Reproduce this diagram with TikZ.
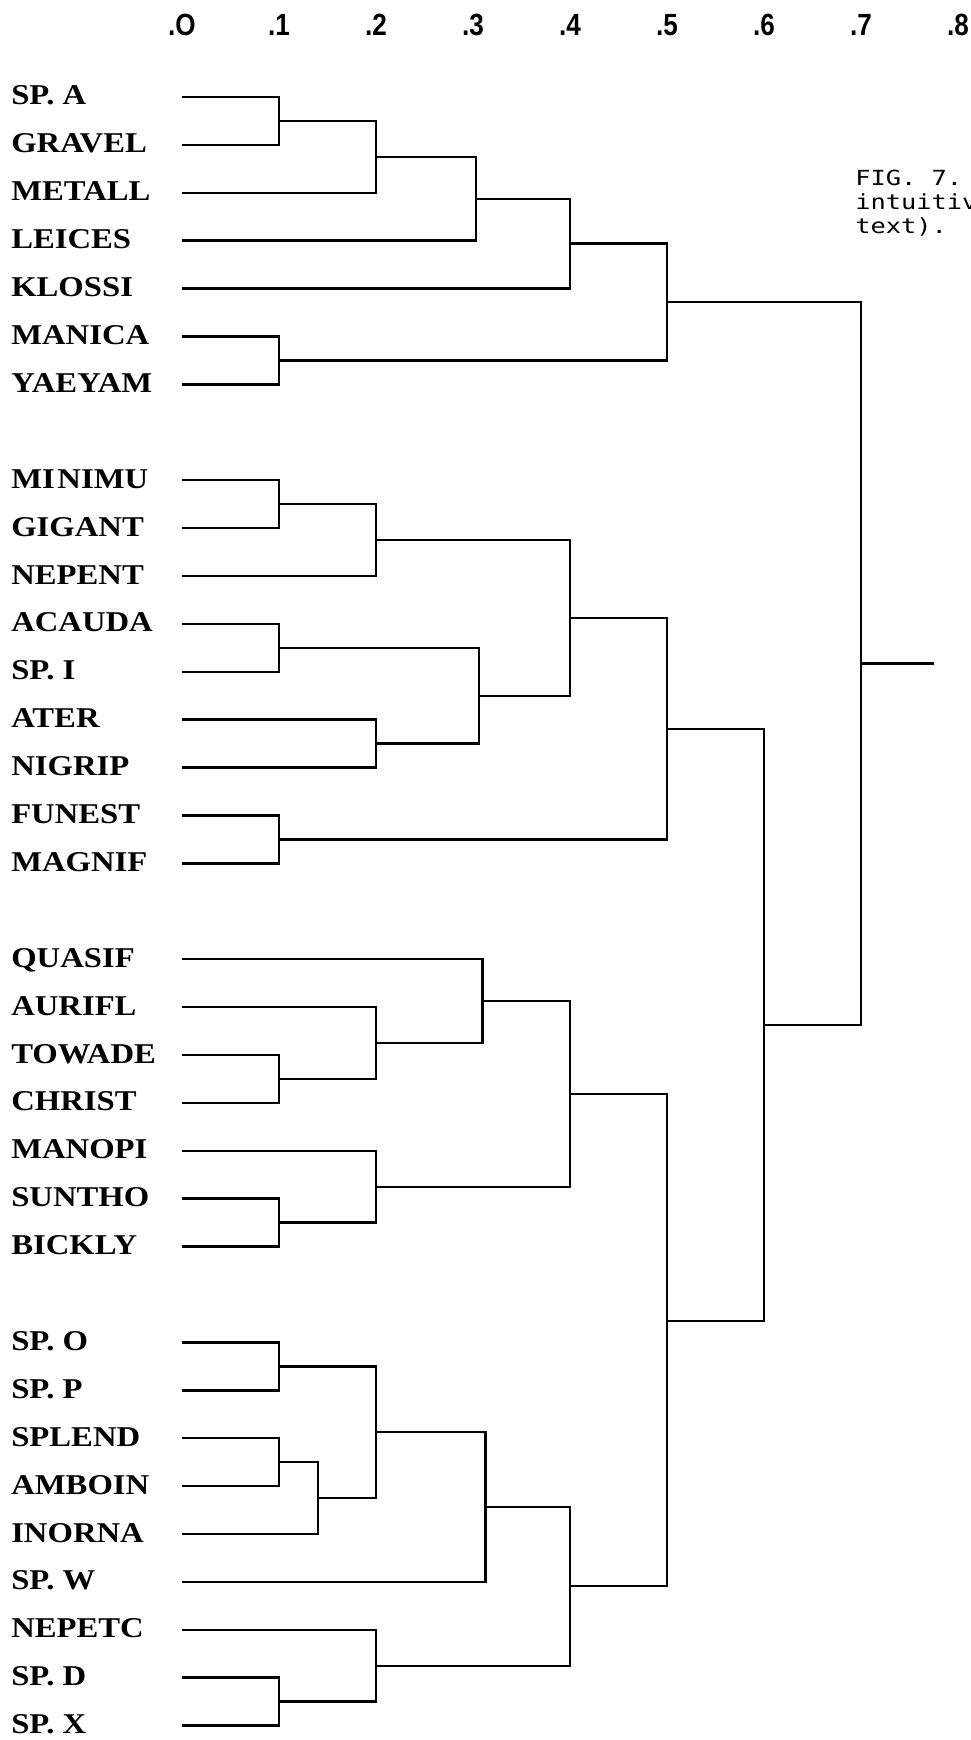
\documentclass[tikz,border=0pt]{standalone}
\usepackage{fontspec}
\newfontfamily\leaffont[FakeStretch=1.14]{Liberation Serif}
\newfontfamily\axisfont[FakeStretch=0.85]{Liberation Sans}
\newfontfamily\capfont[FakeStretch=1.22]{DejaVu Sans Mono}
% row and distance-level positions (pixel-like units)
\newcommand\rowy[1]{97+47.9*#1}
\newcommand\colx[1]{182+970*#1}
% junction: name, level, first child, second child, row of the junction
\newcommand\dendjoin[5]{%
  \coordinate (#1) at (\colx{#2},\rowy{#5});
  \draw[link] (#3) -- (#3 -| #1) -- (#4 -| #1) -- (#4);}
\begin{document}
\begin{tikzpicture}[x=0.75pt,y=-0.75pt,
  leaf/.style={anchor=base west,inner sep=0pt,font=\leaffont\bfseries\fontsize{21.5}{21.5}\selectfont},
  axislabel/.style={anchor=base,inner sep=0pt,font=\axisfont\bfseries\fontsize{23}{23}\selectfont},
  caption/.style={anchor=base west,inner sep=0pt,font=\capfont\fontsize{15.6}{15.6}\selectfont},
  link/.style={line width=1.85pt}]
\useasboundingbox (0,0) rectangle (970,1740);

% distance scale
\foreach \v/\s in {0/.O,1/.1,2/.2,3/.3,4/.4,5/.5,6/.6,7/.7,8/.8}
  \node[axislabel] (ax\v) at (\colx{\v/10},36) {\s};

% leaves
\foreach \t/\r in {SP. A/0,GRAVEL/1,METALL/2,LEICES/3,KLOSSI/4,MANICA/5,YAEYAM/6,
  MI\kern2pt NIMU/8,GIGANT/9,NEPENT/10,ACAUDA/11,SP. I/12,ATER/13,NIGRIP/14,FUNEST/15,MAGNIF/16,
  QUASIF/18,AURIFL/19,TOWADE/20,CHRIST/21,MANOPI/22,SUNTHO/23,BICKLY/24,
  SP. O/26,SP. P/27,SPLEND/28,AMBOIN/29,INORNA/30,SP. W/31,NEPETC/32,SP. D/33,SP. X/34}{
  \coordinate (l\r) at (182,\rowy{\r});
  \node[leaf] (t\r) at (11,\rowy{\r}+8) {\t};
}

% first cluster
\dendjoin{a1}{.1}{l0}{l1}{0.5}
\dendjoin{a2}{.2}{a1}{l2}{1.25}
\dendjoin{a3}{.303}{a2}{l3}{2.125}
\dendjoin{a4}{.4}{a3}{l4}{3.06}
\dendjoin{a5}{.1}{l5}{l6}{5.5}
\dendjoin{a6}{.5}{a4}{a5}{4.28}

% second cluster
\dendjoin{b1}{.1}{l8}{l9}{8.5}
\dendjoin{b2}{.2}{b1}{l10}{9.25}
\dendjoin{b3}{.1}{l11}{l12}{11.5}
\dendjoin{b4}{.2}{l13}{l14}{13.5}
\dendjoin{b5}{.306}{b3}{b4}{12.5}
\dendjoin{b6}{.4}{b2}{b5}{10.875}
\dendjoin{b7}{.1}{l15}{l16}{15.5}
\dendjoin{b8}{.5}{b6}{b7}{13.19}

% third cluster
\dendjoin{c1}{.1}{l20}{l21}{20.5}
\dendjoin{c2}{.2}{l19}{c1}{19.75}
\dendjoin{c3}{.31}{l18}{c2}{18.875}
\dendjoin{c4}{.1}{l23}{l24}{23.5}
\dendjoin{c5}{.2}{l22}{c4}{22.75}
\dendjoin{c6}{.4}{c3}{c5}{20.81}

% fourth cluster
\dendjoin{d1}{.1}{l26}{l27}{26.5}
\dendjoin{d2}{.1}{l28}{l29}{28.5}
\dendjoin{d3}{.14}{d2}{l30}{29.25}
\dendjoin{d4}{.2}{d1}{d3}{27.875}
\dendjoin{d5}{.313}{d4}{l31}{29.44}
\dendjoin{d6}{.1}{l33}{l34}{33.5}
\dendjoin{d7}{.2}{l32}{d6}{32.75}
\dendjoin{d8}{.4}{d5}{d7}{31.09}

% upper levels
\dendjoin{e1}{.5}{c6}{d8}{25.55}
\dendjoin{f1}{.6}{b8}{e1}{19.37}
\dendjoin{g1}{.7}{a6}{f1}{11.83}
\coordinate (root) at (934,\rowy{11.83});
\draw[link] (g1) -- (root);

% caption
\node[caption] (cap1) at (855,186) {FIG. 7.};
\node[caption] (cap2) at (855,210) {intuitiv};
\node[caption] (cap3) at (855,234) {text).};
\end{tikzpicture}
\end{document}
